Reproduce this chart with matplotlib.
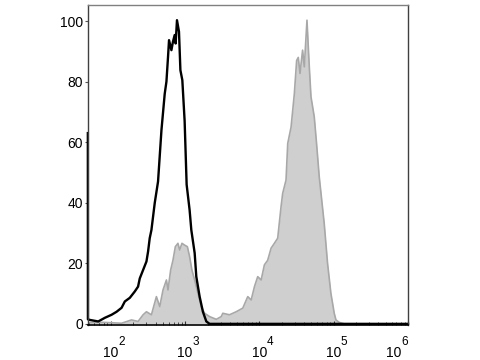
import numpy as np
import matplotlib.pyplot as plt
from matplotlib.ticker import LogLocator, FixedLocator, NullFormatter

plt.rcParams['font.family'] = ['Liberation Sans', 'DejaVu Sans']

# Control (black outline) histogram: log10 fluorescence vs % of max
ctrl_log = [1.69, 1.691, 1.718, 1.83, 1.919, 2.009, 2.077, 2.144, 2.188, 2.255,
            2.322, 2.366, 2.389, 2.434, 2.479, 2.501, 2.523, 2.546, 2.568, 2.591,
            2.635, 2.681, 2.725, 2.748, 2.769, 2.783, 2.815, 2.836, 2.859, 2.872,
            2.89, 2.917, 2.936, 2.962, 2.993, 3.02, 3.06, 3.083, 3.128, 3.15,
            3.195, 3.239, 3.285, 3.329, 6.0]
ctrl_pct = [63, 1.5, 1.3, 0.8, 2.0, 3.0, 4.0, 5.3, 7.4, 8.6,
            10.7, 12.3, 15.0, 17.8, 20.6, 23.9, 28.3, 31.0, 35.4, 40.0,
            47.0, 64.0, 76.0, 80.0, 88.0, 93.7, 90.4, 93.2, 95.4, 92.6,
            100.3, 96.5, 83.8, 80.5, 67.0, 46.0, 37.6, 31.0, 23.4, 15.6,
            9.0, 4.0, 0.8, 0.0, 0.0]

# Stained sample (gray filled) histogram
samp_log = [1.69, 1.9, 2.144, 2.278, 2.366, 2.434, 2.479, 2.546, 2.613, 2.658,
            2.702, 2.748, 2.769, 2.805, 2.836, 2.868, 2.903, 2.926, 2.957, 2.993,
            3.03, 3.06, 3.091, 3.128, 3.172, 3.217, 3.262, 3.329, 3.419, 3.486,
            3.507, 3.597, 3.687, 3.776, 3.843, 3.889, 3.933, 3.977, 4.023, 4.067,
            4.111, 4.157, 4.201, 4.246, 4.291, 4.313, 4.358, 4.381, 4.426, 4.47,
            4.501, 4.523, 4.546, 4.581, 4.604, 4.64, 4.671, 4.694, 4.738, 4.769,
            4.805, 4.872, 4.917, 4.962, 5.007, 5.03, 5.074, 5.141, 6.0]
samp_pct = [0.4, 0.5, 0.2, 1.3, 0.8, 3.0, 4.0, 3.0, 9.0, 5.7,
            11.2, 14.5, 11.2, 17.8, 21.0, 25.5, 26.6, 24.4, 26.6, 26.0,
            25.5, 22.2, 17.8, 14.5, 10.1, 5.7, 3.5, 2.4, 1.5, 2.4,
            3.5, 3.0, 4.0, 5.2, 9.0, 7.9, 12.3, 15.6, 14.5, 19.5,
            21.0, 25.0, 26.6, 28.3, 38.7, 43.1, 47.5, 59.6, 65.0, 76.0,
            87.0, 88.0, 82.7, 90.4, 84.9, 100.3, 85.0, 75.0, 68.4, 59.6,
            48.6, 33.2, 20.0, 10.1, 3.5, 1.3, 0.5, 0.0, 0.0]

y_ticks = [0, 20, 40, 60, 80, 100]
x_ticks = [1e2, 1e3, 1e4, 1e5, 1e6]
x_exps = ['2', '3', '4', '5', '6']

fig = plt.figure(figsize=(4.8, 3.6), dpi=100)
ax = fig.add_axes([0.183, 0.097, 0.667, 0.889])

sx = 10 ** np.array(samp_log)
ax.fill_between(sx, samp_pct, 0, color='#cfcfcf', linewidth=0)
ax.plot(sx, samp_pct, color='#a8a8a8', linewidth=1.2)

cx = 10 ** np.array(ctrl_log)
ax.plot(cx, ctrl_pct, color='black', linewidth=1.7, clip_on=False)

ax.set_xscale('log')
ax.set_xlim(10 ** 1.69, 1e6)
ax.set_ylim(-0.4, 105.3)

ax.set_yticks(y_ticks)
ax.set_yticklabels([str(v) for v in y_ticks], fontsize=10)

# x labels drawn by hand: "10" centred on the tick, exponent up and to the right
ax.xaxis.set_major_locator(FixedLocator(x_ticks))
ax.xaxis.set_major_formatter(NullFormatter())
xt = ax.get_xaxis_transform()
for i, (xv, e) in enumerate(zip(x_ticks, x_exps)):
    dx = -10 if i == len(x_ticks) - 1 else 0  # last one is pulled inside
    ax.annotate('10', xy=(xv, 0), xycoords=xt, xytext=(dx, -15),
                textcoords='offset points', ha='center', va='top',
                fontsize=10, annotation_clip=False)
    ax.annotate(e, xy=(xv, 0), xycoords=xt, xytext=(dx + 5.2, -8),
                textcoords='offset points', ha='left', va='top',
                fontsize=8.5, annotation_clip=False)

ax.xaxis.set_minor_locator(LogLocator(base=10, subs=np.arange(2, 10)))
ax.xaxis.set_minor_formatter(NullFormatter())
ax.tick_params(axis='y', length=2.5, pad=1, color='#555555')
ax.tick_params(axis='x', which='major', direction='in', length=3, color='#333333')
ax.tick_params(axis='x', which='minor', direction='in', length=2, color='#333333')

ax.spines['top'].set_color('#808080')
ax.spines['right'].set_color('#404040')
ax.spines['left'].set_color('#404040')
ax.spines['bottom'].set_color('black')
ax.spines['bottom'].set_linewidth(1.2)
for s in ['top', 'right', 'left']:
    ax.spines[s].set_linewidth(1.0)

fig.savefig('out.png', dpi=100)
